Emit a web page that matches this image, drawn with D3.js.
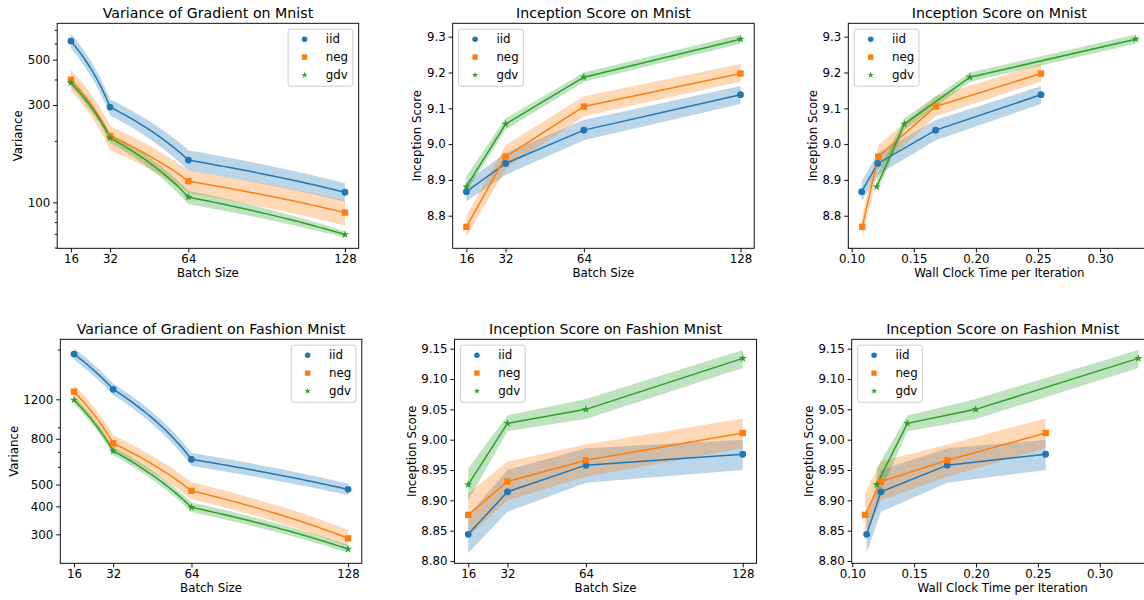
<!DOCTYPE html>
<html><head><meta charset="utf-8">
<script src="https://cdn.jsdelivr.net/npm/d3@7"></script>
<style>
body{margin:0;background:#fff}
svg{display:block}
text{font-family:"DejaVu Sans",sans-serif;fill:#000}
</style>
</head><body>
<svg id="c" width="1144" height="600"></svg>
<script>
// ---------- data ----------
const batchSizes = [16, 32, 64, 128];
const seriesNames = ["iid", "neg", "gdv"];
const seriesColors = ["#1f77b4", "#ff7f0e", "#2ca02c"];
const seriesMarkers = ["circle", "square", "star"];

// Variance of gradient, Mnist
const varMnistIid   = [617, 293, 161, 112];
const varMnistIidLo = [569, 267, 143, 101];
const varMnistIidHi = [671, 320, 180, 124];
const varMnistNeg   = [399, 211, 127, 89];
const varMnistNegLo = [354, 180, 111, 77];
const varMnistNegHi = [447, 236, 143, 102];
const varMnistGdv   = [385, 207, 106, 69.5];
const varMnistGdvLo = [368, 196, 98, 67];
const varMnistGdvHi = [400, 218, 114, 72];

// Variance of gradient, Fashion Mnist
const varFashionIid   = [1910, 1330, 648, 476];
const varFashionIidLo = [1800, 1255, 605, 449];
const varFashionIidHi = [2020, 1410, 693, 505];
const varFashionNeg   = [1297, 764, 469, 288];
const varFashionNegLo = [1210, 705, 430, 264];
const varFashionNegHi = [1390, 830, 512, 314];
const varFashionGdv   = [1192, 706, 396, 258];
const varFashionGdvLo = [1145, 676, 377, 248];
const varFashionGdvHi = [1240, 738, 416, 269];

// Inception score, Mnist
const isMnistIid   = [8.867, 8.946, 9.039, 9.138];
const isMnistIidLo = [8.840, 8.914, 9.011, 9.112];
const isMnistIidHi = [8.895, 8.975, 9.067, 9.162];
const isMnistNeg   = [8.769, 8.965, 9.105, 9.197];
const isMnistNegLo = [8.741, 8.930, 9.078, 9.174];
const isMnistNegHi = [8.800, 8.997, 9.134, 9.224];
const isMnistGdv   = [8.881, 9.056, 9.187, 9.293];
const isMnistGdvLo = [8.866, 9.040, 9.174, 9.280];
const isMnistGdvHi = [8.910, 9.072, 9.200, 9.306];

// Inception score, Fashion Mnist
const isFashionIid   = [8.844, 8.914, 8.958, 8.976];
const isFashionIidLo = [8.813, 8.881, 8.929, 8.950];
const isFashionIidHi = [8.875, 8.950, 8.986, 9.000];
const isFashionNeg   = [8.876, 8.931, 8.966, 9.011];
const isFashionNegLo = [8.840, 8.900, 8.939, 8.986];
const isFashionNegHi = [8.911, 8.964, 8.992, 9.035];
const isFashionGdv   = [8.926, 9.027, 9.050, 9.134];
const isFashionGdvLo = [8.900, 9.014, 9.034, 9.118];
const isFashionGdvHi = [8.953, 9.040, 9.067, 9.148];

// Wall clock time per iteration
const timeMnistIid   = [0.1080, 0.1210, 0.1676, 0.2524];
const timeMnistNeg   = [0.1085, 0.1214, 0.1676, 0.2524];
const timeMnistGdv   = [0.1201, 0.1424, 0.1952, 0.3287];
const timeFashionIid = [0.1116, 0.1232, 0.1768, 0.2563];
const timeFashionNeg = [0.1103, 0.1232, 0.1768, 0.2563];
const timeFashionGdv = [0.1197, 0.1445, 0.1998, 0.3312];

// tick labels
const batchTicks = [16, 32, 64, 128];
const timeTicks = [0.10, 0.15, 0.20, 0.25, 0.30];
const varMnistTicks = [100, 300, 500];
const varMnistMinor = [60, 70, 80, 90, 200, 400, 600, 700];
const varFashionTicks = [300, 400, 500, 800, 1200];
const varFashionMinor = [600, 700, 900, 2000];
const isMnistTicks = [8.8, 8.9, 9.0, 9.1, 9.2, 9.3];
const isFashionTicks = [8.80, 8.85, 8.90, 8.95, 9.00, 9.05, 9.10, 9.15];

// ---------- panels ----------
const panels = [
  {title: "Variance of Gradient on Mnist", box: [57.2, 23.3, 301.5, 225], log: true,
   xLabel: "Batch Size", yLabel: "Variance",
   xs: [batchSizes, batchSizes, batchSizes],
   ys: [varMnistIid, varMnistNeg, varMnistGdv],
   lo: [varMnistIidLo, varMnistNegLo, varMnistGdvLo],
   hi: [varMnistIidHi, varMnistNegHi, varMnistGdvHi],
   xDomain: [10.4, 133.6], yDomain: [59.5, 754],
   xTicks: batchTicks, xFmt: d3.format("d"),
   yTicks: varMnistTicks, yMinor: varMnistMinor, yFmt: d3.format("d"), legend: "right"},
  {title: "Inception Score on Mnist", box: [452.7, 23.3, 301.5, 225], log: false,
   xLabel: "Batch Size", yLabel: "Inception Score",
   xs: [batchSizes, batchSizes, batchSizes],
   ys: [isMnistIid, isMnistNeg, isMnistGdv],
   lo: [isMnistIidLo, isMnistNegLo, isMnistGdvLo],
   hi: [isMnistIidHi, isMnistNegHi, isMnistGdvHi],
   xDomain: [10.4, 133.6], yDomain: [8.709, 9.3374],
   xTicks: batchTicks, xFmt: d3.format("d"),
   yTicks: isMnistTicks, yMinor: [], yFmt: d3.format(".1f"), legend: "left"},
  {title: "Inception Score on Mnist", box: [848.3, 23.3, 302, 225], log: false,
   xLabel: "Wall Clock Time per Iteration", yLabel: "Inception Score",
   xs: [timeMnistIid, timeMnistNeg, timeMnistGdv],
   ys: [isMnistIid, isMnistNeg, isMnistGdv],
   lo: [isMnistIidLo, isMnistNegLo, isMnistGdvLo],
   hi: [isMnistIidHi, isMnistNegHi, isMnistGdvHi],
   xDomain: [0.09726, 0.34042], yDomain: [8.709, 9.3374],
   xTicks: timeTicks, xFmt: d3.format(".2f"),
   yTicks: isMnistTicks, yMinor: [], yFmt: d3.format(".1f"), legend: "left"},
  {title: "Variance of Gradient on Fashion Mnist", box: [60.3, 339.3, 301.5, 224], log: true,
   xLabel: "Batch Size", yLabel: "Variance",
   xs: [batchSizes, batchSizes, batchSizes],
   ys: [varFashionIid, varFashionNeg, varFashionGdv],
   lo: [varFashionIidLo, varFashionNegLo, varFashionGdvLo],
   hi: [varFashionIidHi, varFashionNegHi, varFashionGdvHi],
   xDomain: [10.4, 133.6], yDomain: [222.8, 2222],
   xTicks: batchTicks, xFmt: d3.format("d"),
   yTicks: varFashionTicks, yMinor: varFashionMinor, yFmt: d3.format("d"), legend: "right"},
  {title: "Inception Score on Fashion Mnist", box: [454.5, 339.3, 302, 224], log: false,
   xLabel: "Batch Size", yLabel: "Inception Score",
   xs: [batchSizes, batchSizes, batchSizes],
   ys: [isFashionIid, isFashionNeg, isFashionGdv],
   lo: [isFashionIidLo, isFashionNegLo, isFashionGdvLo],
   hi: [isFashionIidHi, isFashionNegHi, isFashionGdvHi],
   xDomain: [10.4, 133.6], yDomain: [8.7962, 9.1655],
   xTicks: batchTicks, xFmt: d3.format("d"),
   yTicks: isFashionTicks, yMinor: [], yFmt: d3.format(".2f"), legend: "left"},
  {title: "Inception Score on Fashion Mnist", box: [851.7, 339.3, 302, 224], log: false,
   xLabel: "Wall Clock Time per Iteration", yLabel: "Inception Score",
   xs: [timeFashionIid, timeFashionNeg, timeFashionGdv],
   ys: [isFashionIid, isFashionNeg, isFashionGdv],
   lo: [isFashionIidLo, isFashionNegLo, isFashionGdvLo],
   hi: [isFashionIidHi, isFashionNegHi, isFashionGdvHi],
   xDomain: [0.09951, 0.34365], yDomain: [8.7962, 9.1655],
   xTicks: timeTicks, xFmt: d3.format(".2f"),
   yTicks: isFashionTicks, yMinor: [], yFmt: d3.format(".2f"), legend: "left"}
];

// ---------- drawing ----------
const FS = 11.8, TITLE_FS = 14.2, TICK = 4.1, MINOR = 2.4, SPINE = 0.94;
const svg = d3.select("#c");
const defs = svg.append("defs");

const symbolTypes = {circle: d3.symbolCircle, square: d3.symbolSquare, star: d3.symbolStar};
const plotSizes = {circle: Math.PI * 3.4 * 3.4, square: 6.4 * 6.4, star: 4.3 * 4.3 / 0.8908130915292852};
const legendSizes = {circle: Math.PI * 2.8 * 2.8, square: 5.4 * 5.4, star: 3.3 * 3.3 / 0.8908130915292852};

// straight segments in data space, sampled so they render correctly on a log axis
function resampleSegments(xs, ys, lo, hi, n) {
  const out = [];
  for (let k = 0; k < xs.length - 1; k++) {
    for (let j = 0; j < n; j++) {
      const t = j / n;
      out.push({
        x: xs[k] + (xs[k + 1] - xs[k]) * t,
        y: ys[k] + (ys[k + 1] - ys[k]) * t,
        lo: lo[k] + (lo[k + 1] - lo[k]) * t,
        hi: hi[k] + (hi[k + 1] - hi[k]) * t
      });
    }
  }
  const m = xs.length - 1;
  out.push({x: xs[m], y: ys[m], lo: lo[m], hi: hi[m]});
  return out;
}

function styleAxis(g) {
  g.attr("font-family", null).attr("font-size", null);
  g.select(".domain").remove();
  g.selectAll(".tick line").attr("stroke", "#000").attr("stroke-width", SPINE);
  g.selectAll(".tick text").attr("fill", "#000").style("font-size", FS + "px");
}

panels.forEach((p, pi) => {
  const [L, T, W, H] = p.box;
  const x = d3.scaleLinear().domain(p.xDomain).range([0, W]);
  const y = (p.log ? d3.scaleLog() : d3.scaleLinear()).domain(p.yDomain).range([H, 0]);
  const g = svg.append("g").attr("transform", `translate(${L},${T})`);

  const clipId = "clip" + pi;
  defs.append("clipPath").attr("id", clipId)
    .append("rect").attr("x", 0).attr("y", 0).attr("width", W).attr("height", H);
  const plot = g.append("g").attr("clip-path", `url(#${clipId})`);

  const n = p.log ? 30 : 1;
  const seriesData = seriesNames.map((s, si) =>
    resampleSegments(p.xs[si], p.ys[si], p.lo[si], p.hi[si], n));

  const area = d3.area().x(d => x(d.x)).y0(d => y(d.lo)).y1(d => y(d.hi));
  const line = d3.line().x(d => x(d.x)).y(d => y(d.y));

  // bands
  seriesData.forEach((sd, si) => {
    plot.append("path").attr("d", area(sd))
      .attr("fill", seriesColors[si]).attr("fill-opacity", 0.3).attr("stroke", "none");
  });
  // lines
  seriesData.forEach((sd, si) => {
    plot.append("path").attr("d", line(sd))
      .attr("fill", "none").attr("stroke", seriesColors[si]).attr("stroke-width", 1.5);
  });
  // markers
  seriesNames.forEach((s, si) => {
    const m = seriesMarkers[si];
    const sym = d3.symbol().type(symbolTypes[m]).size(plotSizes[m]);
    g.append("g").selectAll("path").data(p.ys[si]).join("path")
      .attr("d", sym)
      .attr("transform", (d, i) => `translate(${x(p.xs[si][i])},${y(d)})`)
      .attr("fill", seriesColors[si]);
  });

  // axes
  const xAxis = d3.axisBottom(x).tickValues(p.xTicks).tickFormat(p.xFmt)
    .tickSize(TICK).tickPadding(2.5).tickSizeOuter(0);
  g.append("g").attr("transform", `translate(0,${H})`).call(xAxis).call(styleAxis);

  if (p.yMinor.length) {
    const yMinorAxis = d3.axisLeft(y).tickValues(p.yMinor).tickFormat("")
      .tickSize(MINOR).tickSizeOuter(0);
    g.append("g").call(yMinorAxis).call(styleAxis);
  }
  const yAxis = d3.axisLeft(y).tickValues(p.yTicks).tickFormat(p.yFmt)
    .tickSize(TICK).tickPadding(2.9).tickSizeOuter(0);
  const yg = g.append("g").call(yAxis).call(styleAxis);

  // spines
  g.append("rect").attr("x", 0).attr("y", 0).attr("width", W).attr("height", H)
    .attr("fill", "none").attr("stroke", "#000").attr("stroke-width", SPINE);

  // title
  g.append("text").attr("x", W / 2).attr("y", -5.5).attr("text-anchor", "middle")
    .style("font-size", TITLE_FS + "px").text(p.title);
  // x label
  g.append("text").attr("x", W / 2).attr("y", H + 29).attr("text-anchor", "middle")
    .style("font-size", FS + "px").text(p.xLabel);
  // y label
  let minLeft = 0;
  yg.selectAll(".tick text").each(function () {
    const b = this.getBBox();
    const tr = this.parentNode.getAttribute("transform");
    minLeft = Math.min(minLeft, b.x);
  });
  g.append("text")
    .attr("transform", `translate(${minLeft - 5.5},${H / 2}) rotate(-90)`)
    .attr("text-anchor", "middle").style("font-size", FS + "px").text(p.yLabel);

  // legend
  const lg = g.append("g");
  const rows = lg.selectAll("g").data(seriesNames).join("g");
  rows.append("text").attr("x", 37.8).attr("y", (d, i) => 10 + i * 17.9 + 4.1)
    .style("font-size", FS + "px").text(d => d);
  let maxW = 0;
  rows.select("text").each(function () { maxW = Math.max(maxW, this.getComputedTextLength()); });
  const boxW = 37.8 + maxW + 4.7, boxH = 57;
  lg.insert("rect", ":first-child").attr("x", 0).attr("y", 0).attr("width", boxW).attr("height", boxH)
    .attr("rx", 2.4).attr("ry", 2.4).attr("fill", "#fff").attr("fill-opacity", 0.8)
    .attr("stroke", "#cccccc").attr("stroke-width", 1);
  rows.append("path")
    .attr("d", (d, i) => d3.symbol().type(symbolTypes[seriesMarkers[i]]).size(legendSizes[seriesMarkers[i]])())
    .attr("transform", (d, i) => `translate(16.5,${10 + i * 17.9})`)
    .attr("fill", (d, i) => seriesColors[i]);
  const lx = p.legend === "right" ? W - 5.9 - boxW : 5.9;
  lg.attr("transform", `translate(${lx},5.9)`);
});
</script>
</body></html>
